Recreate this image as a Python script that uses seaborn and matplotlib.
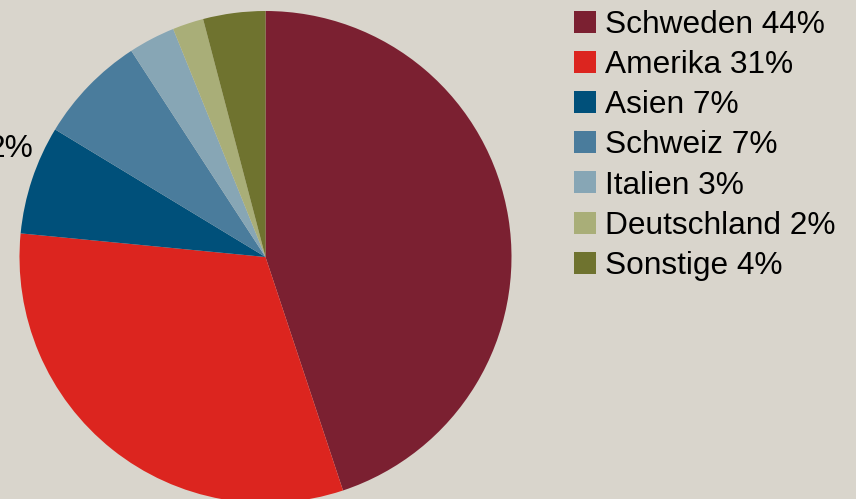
import matplotlib
matplotlib.use("Agg")
import matplotlib.pyplot as plt
from matplotlib.patches import Patch
import seaborn as sns

# Share of sales by region
regions = ["Schweden", "Amerika", "Asien", "Schweiz", "Italien", "Deutschland", "Sonstige"]
shares = [44, 31, 7, 7, 3, 2, 4]
colors = ["#7B2031", "#DC251F", "#00507A", "#4A7C9C", "#87A6B5", "#A9AE78", "#6F732F"]
legend_labels = [f"{r} {s}%" for r, s in zip(regions, shares)]

bg = "#D9D5CC"
sns.set_theme(style="white", rc={"figure.facecolor": bg, "axes.facecolor": bg,
                                 "text.color": "black"})
plt.rcParams["font.family"] = ["Liberation Sans", "DejaVu Sans"]

W, H = 856, 499
fig = plt.figure(figsize=(W / 100, H / 100), dpi=100)

# pie centred at (265.5, 257) px with radius 246 px
cx, cy, r = 265.5, 257, 246
ax = fig.add_axes([(cx - r) / W, (H - cy - r) / H, 2 * r / W, 2 * r / H])
palette = sns.color_palette(colors)
ax.pie(shares, colors=palette, startangle=90, counterclock=False, radius=1,
       wedgeprops=dict(linewidth=0))
ax.set_xlim(-1, 1)
ax.set_ylim(-1, 1)
ax.set_aspect("equal")
ax.axis("off")

handles = [Patch(facecolor=c, edgecolor="none") for c in palette]
fs = 22.8
leg = fig.legend(handles, legend_labels, loc="upper left",
                 bbox_to_anchor=(574 / W, 1 - 10 / H), frameon=False,
                 fontsize=fs, borderpad=0, borderaxespad=0,
                 handlelength=0.69, handleheight=0.69, handletextpad=0.28,
                 labelspacing=0.32)
for t in leg.get_texts():
    t.set_color("black")

fig.text(33 / W, 1 - 157 / H, "2%", ha="right", va="baseline", fontsize=fs,
         color="black")

fig.savefig("out.png", dpi=100, facecolor=bg)
